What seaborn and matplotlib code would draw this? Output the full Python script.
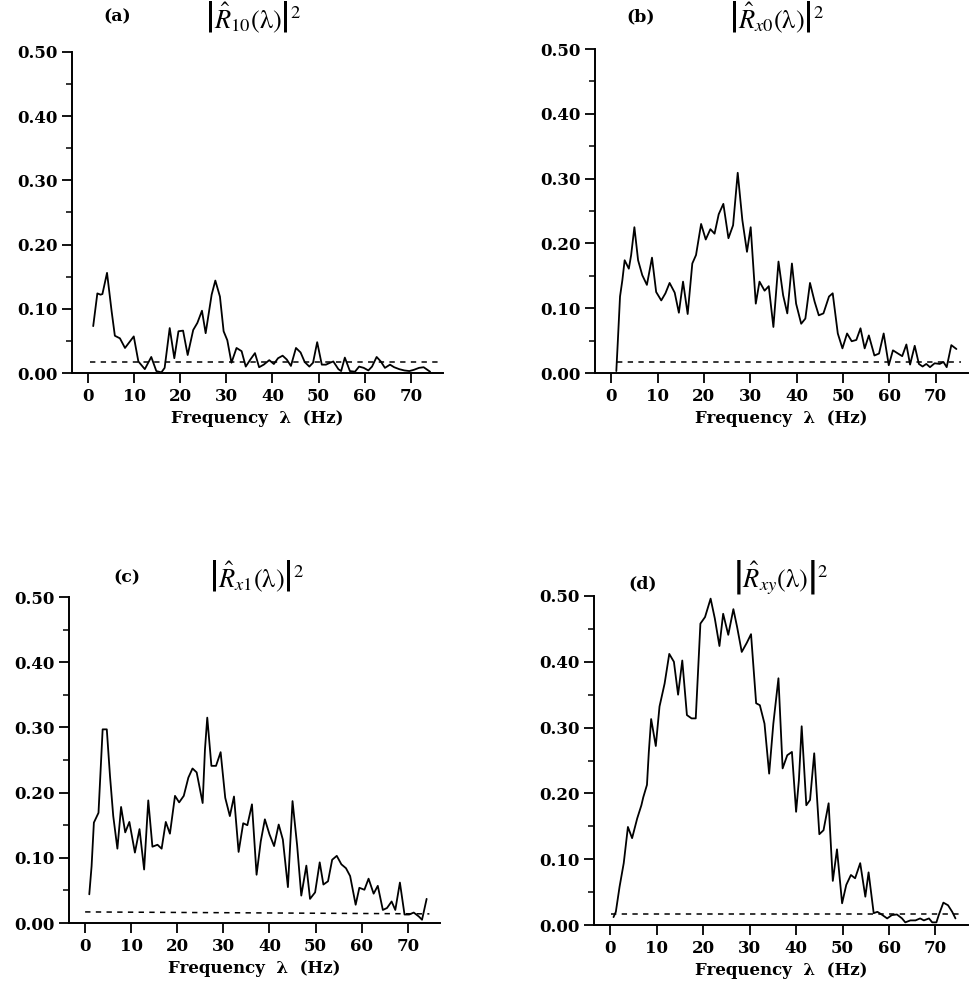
import numpy as np
import pandas as pd
import matplotlib
matplotlib.use("Agg")
import matplotlib.pyplot as plt
import seaborn as sns
from matplotlib.ticker import MultipleLocator, FormatStrFormatter

# ---------------- data ----------------
freq_a = [1.1,2.0,2.7,3.1,4.1,5.1,5.8,6.9,8.0,9.9,10.9,12.3,13.7,14.8,15.9,16.6,17.7,18.7,19.6,20.6,
          21.6,22.8,23.7,24.7,25.5,26.8,27.6,28.6,29.4,30.2,31.1,32.2,33.3,34.2,35.2,36.2,37.1,38.1,39.3,40.3,
          41.2,42.2,43.1,44.0,45.1,46.1,47.0,48.0,48.8,49.7,50.7,51.6,52.5,53.2,54.3,54.9,55.7,56.8,57.9,58.8,
          59.8,60.8,61.6,62.6,63.5,64.4,65.5,66.4,67.5,68.6,69.7,70.7,71.8,72.8,73.4,74.2]
coh_a = [0.073,0.124,0.122,0.123,0.156,0.096,0.058,0.054,0.039,0.057,0.018,0.006,0.025,0.003,0.001,0.008,0.070,0.023,0.065,0.066,
         0.028,0.067,0.078,0.097,0.062,0.122,0.144,0.119,0.065,0.051,0.016,0.039,0.034,0.010,0.021,0.031,0.009,0.013,0.020,0.014,
         0.023,0.027,0.021,0.011,0.039,0.032,0.017,0.010,0.016,0.048,0.013,0.013,0.016,0.018,0.006,0.003,0.024,0.003,0.002,0.010,
         0.008,0.004,0.010,0.025,0.018,0.008,0.013,0.009,0.006,0.004,0.003,0.005,0.008,0.009,0.006,0.002]

freq_b = [1.1,1.4,1.9,2.4,2.9,3.8,4.3,5.0,5.8,6.7,7.7,8.8,9.7,10.8,11.7,12.6,13.7,14.6,15.5,16.5,
          17.5,18.3,19.4,20.4,21.4,22.3,23.2,24.2,25.3,26.3,27.3,28.3,29.3,30.1,31.2,32.0,33.1,34.0,35.0,36.1,
          37.1,38.0,39.0,39.9,41.0,41.9,42.9,43.9,44.8,45.8,47.0,47.8,48.9,49.9,50.9,51.9,52.9,53.8,54.7,55.6,
          56.8,57.8,58.8,59.9,60.8,61.9,62.8,63.7,64.5,65.5,66.4,67.2,68.0,68.8,69.8,70.9,71.7,72.4,73.4,74.5]
coh_b = [0.003,0.045,0.118,0.143,0.174,0.161,0.182,0.225,0.174,0.151,0.136,0.178,0.125,0.112,0.123,0.139,0.124,0.093,0.141,0.091,
         0.169,0.182,0.230,0.206,0.222,0.215,0.245,0.261,0.208,0.228,0.309,0.236,0.187,0.225,0.107,0.141,0.127,0.134,0.071,0.172,
         0.120,0.092,0.169,0.107,0.076,0.084,0.139,0.110,0.089,0.092,0.118,0.123,0.061,0.038,0.061,0.049,0.051,0.069,0.038,0.058,
         0.027,0.030,0.061,0.012,0.035,0.030,0.026,0.044,0.013,0.042,0.014,0.010,0.014,0.009,0.015,0.014,0.017,0.009,0.043,0.037]

freq_c = [0.9,1.4,1.9,2.9,3.8,4.7,5.4,6.1,7.0,7.8,8.7,9.6,10.8,11.8,12.8,13.7,14.6,15.7,16.6,17.5,
          18.4,19.5,20.4,21.4,22.4,23.3,24.2,25.5,26.0,26.5,27.4,28.4,29.4,30.4,31.4,32.3,33.3,34.3,35.2,36.2,
          37.2,38.1,39.0,40.0,41.0,42.0,42.9,44.0,45.0,46.0,46.9,48.0,48.8,49.9,50.9,51.7,52.7,53.6,54.6,55.6,
          56.6,57.5,58.7,59.5,60.6,61.5,62.6,63.5,64.6,65.5,66.5,67.3,68.3,69.3,70.3,71.3,72.4,73.1,74.1]
coh_c = [0.044,0.087,0.154,0.169,0.297,0.297,0.225,0.164,0.114,0.178,0.139,0.155,0.108,0.144,0.082,0.188,0.117,0.120,0.114,0.155,
         0.137,0.195,0.185,0.195,0.223,0.237,0.231,0.184,0.266,0.315,0.241,0.241,0.262,0.192,0.164,0.194,0.109,0.153,0.150,0.182,
         0.074,0.125,0.159,0.136,0.118,0.151,0.128,0.055,0.187,0.119,0.042,0.088,0.037,0.047,0.093,0.059,0.064,0.097,0.103,0.090,
         0.084,0.072,0.028,0.054,0.051,0.068,0.045,0.057,0.020,0.023,0.033,0.020,0.062,0.013,0.013,0.016,0.010,0.005,0.037]

freq_d = [0.7,1.2,2.0,2.9,3.8,4.7,5.8,6.7,7.1,7.9,8.3,8.8,9.8,10.6,11.7,12.7,13.7,14.6,15.5,16.5,
          17.5,18.4,19.4,20.4,21.6,22.5,23.5,24.3,25.4,26.5,27.3,28.3,29.4,30.3,31.4,32.2,33.2,34.2,35.1,36.2,
          37.1,38.1,39.1,40.0,40.6,41.2,42.2,43.0,43.9,45.0,45.9,47.0,47.9,48.8,49.9,50.8,51.8,52.7,53.8,54.9,
          55.6,56.7,57.5,58.4,59.6,60.6,61.7,62.8,63.5,64.6,65.7,66.7,67.5,68.6,69.3,70.2,70.7,71.7,72.7,73.6,74.3]
coh_d = [0.012,0.020,0.058,0.094,0.149,0.132,0.162,0.182,0.194,0.213,0.263,0.313,0.272,0.332,0.367,0.412,0.400,0.350,0.402,0.319,
         0.314,0.314,0.458,0.468,0.496,0.466,0.424,0.473,0.441,0.480,0.453,0.415,0.429,0.442,0.337,0.334,0.306,0.230,0.306,0.375,
         0.238,0.258,0.263,0.172,0.220,0.302,0.182,0.190,0.261,0.138,0.144,0.185,0.067,0.115,0.033,0.061,0.076,0.071,0.094,0.043,
         0.080,0.018,0.020,0.016,0.010,0.015,0.016,0.010,0.004,0.007,0.007,0.010,0.007,0.010,0.004,0.004,0.015,0.034,0.030,0.020,0.010]

# significance (dashed) lines
thr_freq_a = [0.4, 76.0];  thr_a = [0.017, 0.017]
thr_freq_b = [1.2, 75.5];  thr_b = [0.017, 0.017]
thr_freq_c = [0.0, 74.7];  thr_c = [0.017, 0.014]
thr_freq_d = [0.2, 75.0];  thr_d = [0.017, 0.017]

panel_tags = ["(a)", "(b)", "(c)", "(d)"]
panel_titles = [r"$\left|\hat{R}_{10}(\mathrm{\lambda})\right|^{2}$",
                r"$\left|\hat{R}_{x0}(\mathrm{\lambda})\right|^{2}$",
                r"$\left|\hat{R}_{x1}(\mathrm{\lambda})\right|^{2}$",
                r"$\left|\hat{R}_{xy}(\mathrm{\lambda})\right|^{2}$"]
x_ticks = [0, 10, 20, 30, 40, 50, 60, 70]
y_ticks = [0.00, 0.10, 0.20, 0.30, 0.40, 0.50]
x_label = "Frequency  λ  (Hz)"

# ---------------- styling ----------------
sns.set_theme(style="white")
plt.rcParams["font.family"] = ["DejaVu Serif"]
plt.rcParams["mathtext.fontset"] = "stix"
plt.rcParams["text.color"] = "black"
plt.rcParams["axes.labelcolor"] = "black"
plt.rcParams["xtick.color"] = "black"
plt.rcParams["ytick.color"] = "black"

W, H = 977, 986
fig = plt.figure(figsize=(W / 100, H / 100), dpi=100)

# axes boxes in pixels: (left, top, right, bottom)
boxes = [(72, 52, 443, 373), (595, 49, 968, 373), (69, 597, 440, 923), (594, 596, 968, 925)]
tag_pos = [(117, 17), (641, 17), (127, 578), (643, 584)]
title_pos = [(253, 17), (777, 17), (257, 576), (781, 578)]

series = [(freq_a, coh_a, thr_freq_a, thr_a),
          (freq_b, coh_b, thr_freq_b, thr_b),
          (freq_c, coh_c, thr_freq_c, thr_c),
          (freq_d, coh_d, thr_freq_d, thr_d)]

for i, ((fx, fy, tx, ty), (l, t, r, b)) in enumerate(zip(series, boxes)):
    ax = fig.add_axes([l / W, 1 - b / H, (r - l) / W, (b - t) / H])
    df = pd.DataFrame({"f": fx, "v": fy})
    sns.lineplot(data=df, x="f", y="v", ax=ax, color="black", lw=1.3, sort=False)
    dth = pd.DataFrame({"f": tx, "v": ty})
    sns.lineplot(data=dth, x="f", y="v", ax=ax, color="black", lw=1.1, sort=False,
                 dashes=False, linestyle=(0, (3.5, 3.5)))
    ax.set_xlim(-3.5, 77)
    ax.set_ylim(0, 0.5)
    ax.set_xticks(x_ticks)
    ax.set_yticks(y_ticks)
    ax.yaxis.set_minor_locator(MultipleLocator(0.05))
    ax.yaxis.set_major_formatter(FormatStrFormatter("%.2f"))
    ax.tick_params(axis="both", which="major", direction="out", length=7, width=1.3,
                   color="black", labelcolor="black", labelsize=12, pad=3.5, bottom=True, left=True)
    ax.tick_params(axis="y", which="minor", direction="out", length=4, width=1.1,
                   color="black", left=True)
    for lab in ax.get_xticklabels() + ax.get_yticklabels():
        lab.set_fontweight("bold")
    ax.set_xlabel(x_label, fontsize=12, fontweight="bold", labelpad=4, color="black")
    ax.set_ylabel("")
    for s in ["top", "right"]:
        ax.spines[s].set_visible(False)
    for s in ["left", "bottom"]:
        ax.spines[s].set_color("black")
        ax.spines[s].set_linewidth(1.4)
    ax.set_facecolor("white")

    fig.text(tag_pos[i][0] / W, 1 - tag_pos[i][1] / H, panel_tags[i], ha="center", va="center",
             fontsize=12.5, fontweight="bold", color="black")
    fig.text(title_pos[i][0] / W, 1 - title_pos[i][1] / H, panel_titles[i], ha="center", va="center",
             fontsize=19, color="black")

fig.savefig("out.png", dpi=100, facecolor="white")
